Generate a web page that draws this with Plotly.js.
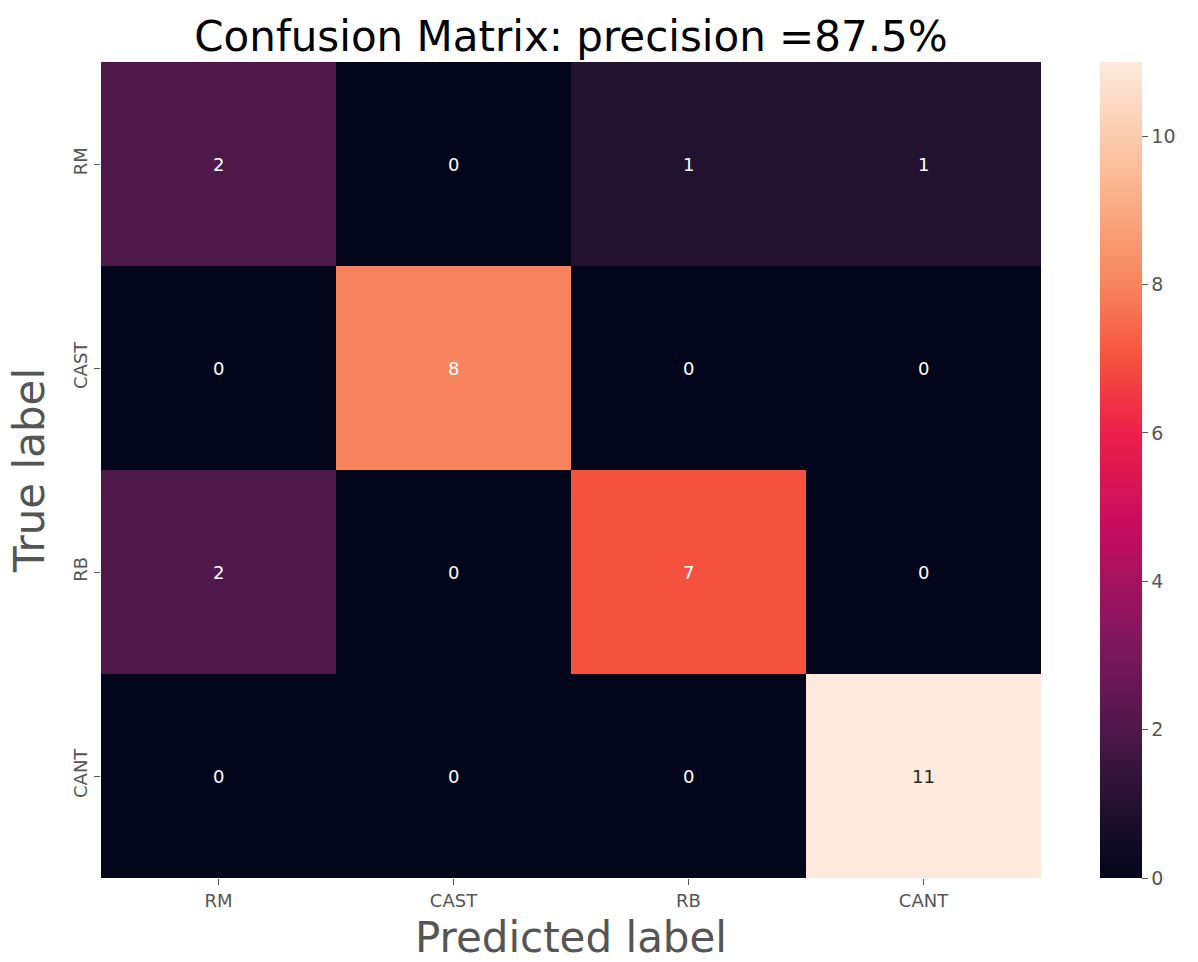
<!DOCTYPE html>
<html>
<head>
<meta charset="utf-8">
<script src="https://cdn.plot.ly/plotly-3.0.1.min.js"></script>
<style>html,body{margin:0;padding:0;background:#fff;}#chart{width:1198px;height:962px;}</style>
</head>
<body>
<div id="chart"></div>
<script>
const predictedLabels = ["RM", "CAST", "RB", "CANT"];
const trueLabels = ["RM", "CAST", "RB", "CANT"];
const counts = [
  [2, 0, 1, 1],
  [0, 8, 0, 0],
  [2, 0, 7, 0],
  [0, 0, 0, 11]
];
const chartTitle = "Confusion Matrix: precision =87.5%";
const colorbarTicks = [0, 2, 4, 6, 8, 10];

const rocket = [
  [0.0, "#03051a"],
  [0.09, "#22112f"],
  [0.182, "#4f184a"],
  [0.3, "#84175f"],
  [0.43, "#c60d5d"],
  [0.545, "#ec1f4a"],
  [0.636, "#f5513f"],
  [0.727, "#f7845c"],
  [0.857, "#fab994"],
  [1.0, "#fdeadd"]
];
const zmax = 11;

const annotations = [];
counts.forEach((row, i) => {
  row.forEach((v, j) => {
    annotations.push({
      x: predictedLabels[j], y: trueLabels[i], xref: "x", yref: "y",
      text: String(v), showarrow: false,
      font: {family: "DejaVu Sans", size: 18, color: v / zmax > 0.8 ? "#262626" : "#ffffff"}
    });
  });
});

const trace = {
  type: "heatmap",
  x: predictedLabels,
  y: trueLabels,
  z: counts,
  zmin: 0, zmax: zmax,
  colorscale: rocket,
  xgap: 0, ygap: 0,
  hoverinfo: "x+y+z",
  colorbar: {
    thickness: 42, thicknessmode: "pixels",
    len: 1, lenmode: "fraction",
    x: (1100 - 101) / 940, xanchor: "left", xpad: 0,
    y: 0.5, yanchor: "middle", ypad: 0,
    outlinewidth: 0,
    tickvals: colorbarTicks,
    ticks: "outside", ticklen: 6, tickcolor: "#555",
    tickfont: {family: "DejaVu Sans", size: 19, color: "#555"}
  }
};

const layout = {
  width: 1198, height: 962,
  margin: {l: 101, r: 157, t: 62, b: 84},
  paper_bgcolor: "#ffffff", plot_bgcolor: "#ffffff",
  title: {text: chartTitle, x: 0.5, xref: "paper", xanchor: "center", y: 0.962, yref: "container", yanchor: "middle",
    font: {family: "DejaVu Sans", size: 42, color: "#000000"}},
  xaxis: {
    type: "category", showgrid: false, zeroline: false, showline: false,
    ticks: "outside", ticklen: 6, tickcolor: "#555",
    tickfont: {family: "DejaVu Sans", size: 18, color: "#555"},
    title: {text: "Predicted label", standoff: 14, font: {family: "DejaVu Sans", size: 42, color: "#555"}}
  },
  yaxis: {
    type: "category", autorange: "reversed", showgrid: false, zeroline: false, showline: false,
    ticks: "outside", ticklen: 6, tickcolor: "#555", tickangle: -90,
    tickfont: {family: "DejaVu Sans", size: 18, color: "#555"},
    title: {text: "True label", standoff: 12, font: {family: "DejaVu Sans", size: 42, color: "#555"}}
  },
  annotations: annotations
};

Plotly.newPlot("chart", [trace], layout, {displayModeBar: false, staticPlot: true});
</script>
</body>
</html>
